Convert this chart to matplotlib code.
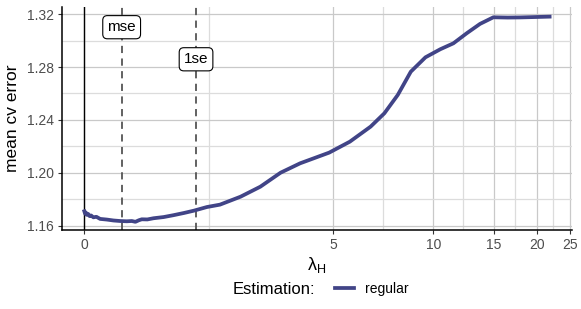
import numpy as np
import matplotlib.pyplot as plt
from matplotlib.lines import Line2D

plt.rcParams['font.family'] = ['Liberation Sans', 'DejaVu Sans']
plt.rcParams['mathtext.fontset'] = 'custom'
plt.rcParams['mathtext.rm'] = 'Liberation Sans'
plt.rcParams['mathtext.it'] = 'Liberation Sans'

# valeurs
lam = [0.0, 0.01, 0.02, 0.03, 0.05, 0.07, 0.09, 0.12, 0.16, 0.21, 0.30, 0.39,
       0.48, 0.57, 0.64, 0.69, 0.74, 0.78, 0.86, 0.95, 1.10, 1.25, 1.42,
       1.58, 1.81, 2.05, 2.46, 2.90, 3.40, 3.94, 4.87, 5.64, 6.52, 7.17,
       7.86, 8.59, 9.49, 10.49, 11.46, 12.53, 13.70, 14.98, 16.5, 17.9,
       19.8, 21.8]
cv_err = [1.1708, 1.1690, 1.1699, 1.1681, 1.1688, 1.1671, 1.1676, 1.1662,
          1.1666, 1.1650, 1.1645, 1.1638, 1.1634, 1.1632, 1.1634, 1.1628,
          1.1640, 1.1647, 1.1646, 1.1655, 1.1664, 1.1678, 1.1695, 1.1712,
          1.1740, 1.1758, 1.1818, 1.1894, 1.2000, 1.2071, 1.2152, 1.2235,
          1.2349, 1.2450, 1.2589, 1.2765, 1.2874, 1.2935, 1.2980, 1.3056,
          1.3127, 1.3177, 1.3175, 1.3176, 1.3179, 1.3182]
lam_mse = 0.50
lam_1se = 1.62
x_breaks = [0, 5, 10, 15, 20, 25]
y_breaks = [1.16, 1.20, 1.24, 1.28, 1.32]

fwd = lambda x: np.arcsinh(np.asarray(x) / 2)
inv = lambda u: 2 * np.sinh(np.asarray(u))

fig = plt.figure(figsize=(5.81, 3.09), dpi=100)
ax = fig.add_axes([62 / 581, 1 - 230 / 309, 510 / 581, 223 / 309])
ax.set_xscale('function', functions=(fwd, inv))
ax.set_xlim(-0.297, 25.3)
ax.set_ylim(1.1566, 1.3255)

# grille majeure / mineure (mineure au milieu en espace transformé)
u = fwd(x_breaks)
x_minor = inv((u[:-1] + u[1:]) / 2)
y_minor = [(a + b) / 2 for a, b in zip(y_breaks[:-1], y_breaks[1:])]
ax.set_xticks(x_breaks)
ax.set_xticks(x_minor, minor=True)
ax.set_yticks(y_breaks)
ax.set_yticks(y_minor, minor=True)
ax.set_xticklabels([str(b) for b in x_breaks])
ax.set_yticklabels([f"{b:.2f}" for b in y_breaks])
ax.grid(True, which='major', color='#C9C9C9', lw=0.9)
ax.grid(True, which='minor', color='#DCDCDC', lw=0.9)
ax.set_axisbelow(True)

ax.tick_params(which='major', length=3, width=0.8, color='#333333',
               labelsize=10, labelcolor='#4D4D4D', pad=3)
ax.tick_params(which='minor', length=0)
for s in ['top', 'right']:
    ax.spines[s].set_visible(False)
for s in ['left', 'bottom']:
    ax.spines[s].set_linewidth(1.1)
    ax.spines[s].set_color('black')

ax.axvline(0, color='black', lw=1.0)
ax.axvline(lam_mse, color='#555555', lw=1.3, ls=(0, (4, 3)))
ax.axvline(lam_1se, color='#555555', lw=1.3, ls=(0, (4, 3)))

ax.plot(lam, cv_err, color='#414487', lw=2.7, solid_joinstyle='round')

box = dict(boxstyle='round,pad=0.3', fc='white', ec='black', lw=0.8)
ax.text(lam_mse, 1.3102, 'mse', ha='center', va='center', fontsize=11, bbox=box)
ax.text(lam_1se, 1.2859, '1se', ha='center', va='center', fontsize=11, bbox=box)

ax.set_ylabel('mean cv error', fontsize=12.5, labelpad=5)
ax.set_xlabel(r'$\mathrm{\lambda}_\mathrm{H}$', fontsize=13, labelpad=2)

fig.text(233 / 581, 1 - 289 / 309, 'Estimation:', fontsize=12, va='center', ha='left')
handle = Line2D([], [], color='#414487', lw=2.7)
fig.legend([handle], ['regular'], loc='center left',
           bbox_to_anchor=(322 / 581, 1 - 289 / 309), frameon=False,
           fontsize=10, handlelength=1.4, handletextpad=0.8)

fig.savefig('out.png', dpi=100)
